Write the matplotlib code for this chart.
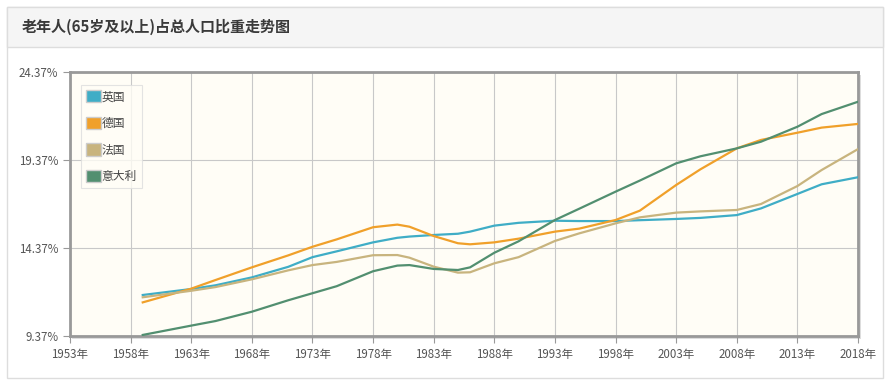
import matplotlib
matplotlib.use('Agg')
import matplotlib.pyplot as plt
from matplotlib.patches import Rectangle, Patch

plt.rcParams['font.family'] = ['Noto Sans CJK SC', 'DejaVu Sans']

# data (share of population aged 65+, %)
years = [1959, 1963, 1965, 1968, 1971, 1973, 1975, 1978, 1980, 1981, 1983, 1985, 1986,
         1988, 1990, 1993, 1995, 1998, 2000, 2003, 2005, 2008, 2010, 2013, 2015, 2018]
uk = [11.70, 12.04, 12.25, 12.70, 13.30, 13.85, 14.18, 14.69, 14.95, 15.02, 15.11, 15.18, 15.30,
      15.64, 15.80, 15.92, 15.90, 15.90, 15.95, 16.02, 16.08, 16.24, 16.62, 17.44, 17.99, 18.39]
germany = [11.28, 12.06, 12.55, 13.27, 13.95, 14.44, 14.86, 15.55, 15.70, 15.58, 15.05, 14.64, 14.58,
           14.69, 14.90, 15.30, 15.47, 15.96, 16.49, 17.95, 18.84, 20.03, 20.51, 20.92, 21.21, 21.42]
france = [11.57, 11.94, 12.15, 12.59, 13.10, 13.40, 13.58, 13.96, 13.97, 13.82, 13.31, 12.97, 12.99,
          13.50, 13.85, 14.77, 15.20, 15.77, 16.11, 16.38, 16.45, 16.53, 16.87, 17.89, 18.80, 19.99]
italy = [9.43, 9.96, 10.22, 10.75, 11.40, 11.80, 12.20, 13.05, 13.37, 13.40, 13.18, 13.12, 13.27,
         14.10, 14.75, 15.96, 16.60, 17.57, 18.20, 19.18, 19.58, 20.03, 20.41, 21.26, 21.98, 22.68]

series_names = ['英国', '德国', '法国', '意大利']
series_colors = ['#3fadc6', '#f0a02a', '#c8b47e', '#528f70']
x_ticks = list(range(1953, 2019, 5))
y_ticks = [9.37, 14.37, 19.37, 24.37]

fig = plt.figure(figsize=(8.92, 3.85), dpi=100)

# card + header
fig.patches.append(Rectangle((7/892, 7/385), 876/892, 371/385, transform=fig.transFigure,
                             facecolor='white', edgecolor='#dddddd', lw=1, zorder=-3))
fig.patches.append(Rectangle((7/892, 1 - 47/385), 876/892, 40/385, transform=fig.transFigure,
                             facecolor='#f5f5f5', edgecolor='#dddddd', lw=1, zorder=-2))
# shadow of the plot area
fig.patches.append(Rectangle((72/892, 1 - 339/385), 789/892, 264/385, transform=fig.transFigure,
                             facecolor='#dddddd', edgecolor='none', zorder=-1))
fig.text(22/892, 1 - 27/385, '老年人(65岁及以上)占总人口比重走势图', fontsize=10.8,
         fontweight='bold', color='#3a3a3a', va='center', ha='left')

ax = fig.add_axes([70/892, 1 - 336/385, 788/892, 264/385])
ax.set_zorder(1)
ax.set_facecolor('#fffdf6')

for vals, color in zip([uk, germany, france, italy], series_colors):
    ax.plot(years, vals, color=color, lw=1.6, zorder=3, solid_joinstyle='round')

ax.set_xlim(1953, 2018)
ax.set_ylim(9.37, 24.37)
ax.set_xticks(x_ticks)
ax.set_xticklabels([f'{y}年' for y in x_ticks])
ax.set_yticks(y_ticks)
ax.set_yticklabels([f'{v:.2f}%' for v in y_ticks])
ax.tick_params(axis='both', labelsize=8.3, colors='#555555', length=5, width=0.8)
ax.tick_params(axis='both', color='#999999')
ax.grid(color='#c8c8c8', lw=0.8)
for sp in ax.spines.values():
    sp.set_color('#999999')
    sp.set_linewidth(2)

handles = [Patch(facecolor=c, edgecolor='#cccccc') for c in series_colors]
leg = ax.legend(handles, series_names, loc='upper left', bbox_to_anchor=(0.014, 0.951),
                borderaxespad=0, fontsize=8.5, frameon=True, fancybox=False,
                handlelength=1.2, handleheight=1.2, handletextpad=0.1, labelspacing=1.15,
                borderpad=0.45, labelcolor='#444444')
leg.get_frame().set_edgecolor('#dddddd')
leg.get_frame().set_facecolor('#fffdf6')
leg.get_frame().set_linewidth(0.8)

fig.savefig('out.png', dpi=100)
